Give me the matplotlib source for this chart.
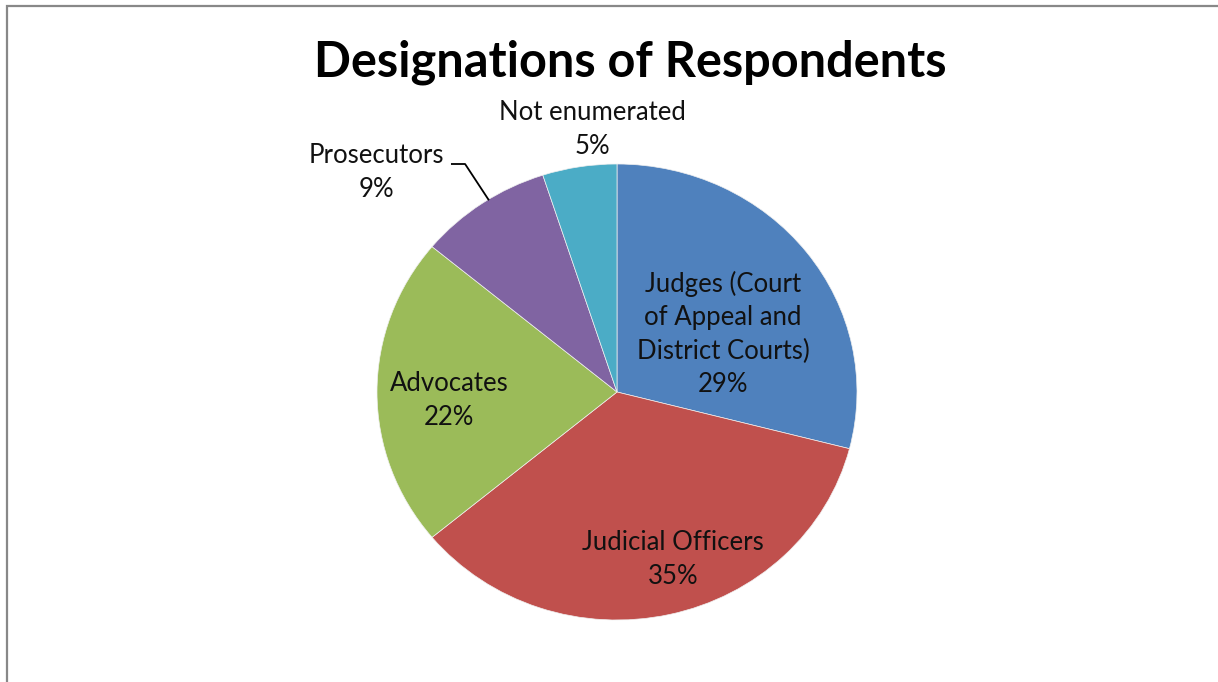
import numpy as np
import matplotlib
matplotlib.use("Agg")
import matplotlib.pyplot as plt
from matplotlib.patches import Rectangle

# Survey breakdown
categories = ["Judges (Court\nof Appeal and\nDistrict Courts)", "Judicial Officers",
              "Advocates", "Prosecutors", "Not enumerated"]
shares = [29, 35, 22, 9, 5]
colors = ["#4F81BD", "#C0504D", "#9BBB59", "#8064A2", "#4BACC6"]

# label placement: (angle offset from wedge middle in degrees, radius as fraction of pie radius)
label_place = [(-8, 0.51), (5, 0.77), (3, 0.70), (12, 1.39), (-4, 1.155)]

W, H = 1218, 682
fig = plt.figure(figsize=(W / 100, H / 100), dpi=100)
fig.patch.set_facecolor("white")

# outer chart frame (top and left edges visible)
fig.add_artist(Rectangle((7 / W, -0.1), 1.2, 1 - 6 / H + 0.1, transform=fig.transFigure,
                         fill=False, edgecolor="#888888", linewidth=1.6))

fig.text(630 / W, 1 - 62 / H, "Designations of Respondents", ha="center", va="center",
         fontsize=35, fontweight="bold", family="Lato", color="black")

# pie axes: slightly wider than tall
rx, ry = 240, 228
cx, cy = 617, 392
aw, ah = 2.5 * rx, 2.5 * ry
ax = fig.add_axes([(cx - aw / 2) / W, 1 - (cy + ah / 2) / H, aw / W, ah / H])
wedges, _ = ax.pie(shares, colors=colors, startangle=90, counterclock=False,
                   wedgeprops=dict(linewidth=0.5, edgecolor="#f0f0f0"))
ax.set_aspect("auto")
ax.set_xlim(-1.25, 1.25)
ax.set_ylim(-1.25, 1.25)
ax.axis("off")

total = sum(shares)
for w, name, val, (doff, rad) in zip(wedges, categories, shares, label_place):
    mid = np.deg2rad((w.theta1 + w.theta2) / 2 + doff)
    x, y = rad * np.cos(mid), rad * np.sin(mid)
    ax.text(x, y, f"{name}\n{round(100 * val / total)}%", ha="center", va="center",
            fontsize=18.5, family="Lato", color="#111111", linespacing=1.42)

# leader line for the small outside label
w = wedges[3]
mid = np.deg2rad((w.theta1 + w.theta2) / 2 - 1.8)
ex, ey = np.cos(mid), np.sin(mid)
ax.plot([ex, -0.633, -0.688], [ey, 1.0, 1.0], color="black", lw=1.3, clip_on=False)

fig.savefig("out.png", dpi=100)
